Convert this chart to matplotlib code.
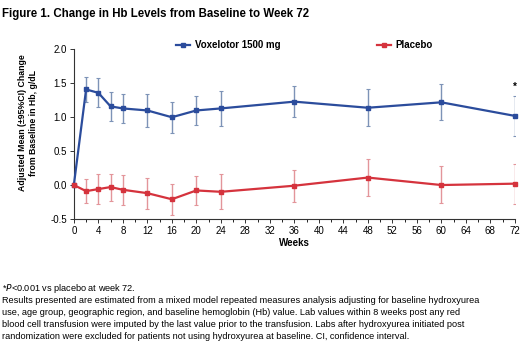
import matplotlib
matplotlib.use("Agg")
import matplotlib.pyplot as plt
from matplotlib.ticker import MultipleLocator, FormatStrFormatter

plt.rcParams["font.family"] = ["Liberation Sans", "DejaVu Sans"]

# Data
weeks = [0, 2, 4, 6, 8, 12, 16, 20, 24, 36, 48, 60, 72]

vox_mean = [0.0, 1.41, 1.36, 1.16, 1.13, 1.10, 1.00, 1.10, 1.13, 1.23, 1.14, 1.22, 1.02]
vox_upper = [0.0, 1.59, 1.58, 1.37, 1.35, 1.34, 1.22, 1.32, 1.39, 1.46, 1.41, 1.49, 1.32]
vox_lower = [0.0, 1.23, 1.15, 0.95, 0.91, 0.86, 0.77, 0.88, 0.87, 1.00, 0.87, 0.96, 0.72]

pla_mean = [0.0, -0.09, -0.06, -0.03, -0.07, -0.12, -0.21, -0.08, -0.10, -0.01, 0.11, 0.00, 0.02]
pla_upper = [0.0, 0.09, 0.16, 0.17, 0.15, 0.11, 0.01, 0.13, 0.16, 0.22, 0.38, 0.28, 0.31]
pla_lower = [0.0, -0.27, -0.28, -0.23, -0.29, -0.35, -0.44, -0.30, -0.36, -0.25, -0.16, -0.26, -0.28]

BLUE = "#2b4c9c"
BLUE_ERR = "#7d93b7"
RED = "#d5333d"
RED_ERR = "#e3959a"

footnote = [
    "Results presented are estimated from a mixed model repeated measures analysis adjusting for baseline hydroxyurea",
    "use, age group, geographic region, and baseline hemoglobin (Hb) value. Lab values within 8 weeks post any red",
    "blood cell transfusion were imputed by the last value prior to the transfusion. Labs after hydroxyurea initiated post",
    "randomization were excluded for patients not using hydroxyurea at baseline. CI, confidence interval.",
]


def errs(mean, lo, hi):
    return [[m - l for m, l in zip(mean, lo)], [h - m for m, h in zip(mean, hi)]]


fig = plt.figure(figsize=(5.2, 3.41), dpi=100)
ax = fig.add_axes([0.142, 0.358, 0.848, 0.497])

# error bars first, in lighter colour, then lines on top
ax.errorbar(weeks[1:], vox_mean[1:], yerr=errs(vox_mean[1:], vox_lower[1:], vox_upper[1:]),
            fmt="none", ecolor=BLUE_ERR, elinewidth=1.0, capsize=1.5, capthick=0.8, zorder=2)
ax.errorbar(weeks[1:], pla_mean[1:], yerr=errs(pla_mean[1:], pla_lower[1:], pla_upper[1:]),
            fmt="none", ecolor=RED_ERR, elinewidth=1.0, capsize=1.5, capthick=0.8, zorder=2)

l1, = ax.plot(weeks, vox_mean, color=BLUE, lw=1.6, marker="s", ms=3, zorder=3,
              label="Voxelotor 1500 mg", clip_on=False)
l2, = ax.plot(weeks, pla_mean, color=RED, lw=1.6, marker="s", ms=2.5, zorder=3,
              label="Placebo", clip_on=False)

ax.text(72, 1.38, "*", ha="center", va="bottom", fontsize=7, fontweight="bold")

ax.set_xlim(0, 72)
ax.set_ylim(-0.5, 2.0)
ax.xaxis.set_major_locator(MultipleLocator(4))
ax.xaxis.set_minor_locator(MultipleLocator(2))
ax.yaxis.set_major_locator(MultipleLocator(0.5))
ax.yaxis.set_major_formatter(FormatStrFormatter("%.1f"))
ax.spines["top"].set_visible(False)
ax.spines["right"].set_visible(False)
for s in ["left", "bottom"]:
    ax.spines[s].set_linewidth(0.8)
    ax.spines[s].set_color("#333333")
ax.tick_params(axis="both", labelsize=7, length=3, width=0.7, color="#333333", pad=2)
ax.tick_params(axis="x", which="minor", length=2, width=0.6)

ax.set_xlabel("Weeks", fontsize=7, fontweight="bold", labelpad=1.5)
fig.text(0.054, 0.64, "Adjusted Mean (\u00b195%CI) Change\nfrom Baseline in Hb, g/dL",
         rotation=90, ha="center", va="center", fontsize=6.3, fontweight="bold", linespacing=1.25)

# legend entries placed separately like the original
fig.legend(handles=[l1], loc="center left", bbox_to_anchor=(0.322, 0.868), frameon=False,
           prop={"size": 7, "weight": "bold"}, handlelength=1.4, handletextpad=0.5)
fig.legend(handles=[l2], loc="center left", bbox_to_anchor=(0.708, 0.868), frameon=False,
           prop={"size": 7, "weight": "bold"}, handlelength=1.4, handletextpad=0.5)

fig.text(0.004, 0.978, "Figure 1. Change in Hb Levels from Baseline to Week 72",
         fontsize=8.3, fontweight="bold", ha="left", va="top")

fig.text(0.004, 0.155, "*$\\it{P}$<0.001 vs placebo at week 72.", fontsize=6.6, ha="left", va="center")
for i, line in enumerate(footnote):
    fig.text(0.004, 0.120 - i * 0.0352, line, fontsize=6.6, ha="left", va="center")

fig.savefig("out.png", dpi=100)
